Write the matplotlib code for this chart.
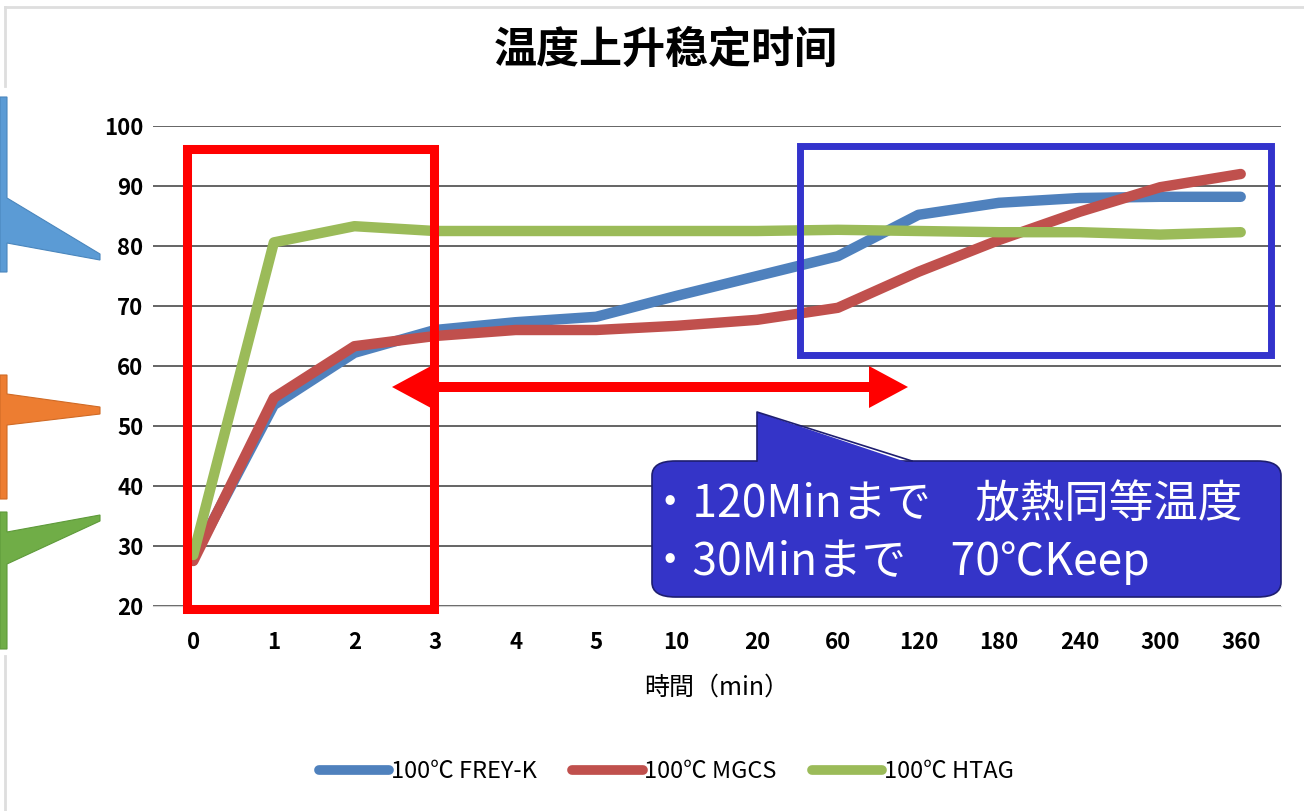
import matplotlib
matplotlib.use("Agg")
import matplotlib.pyplot as plt
from matplotlib.patches import Polygon, Rectangle, FancyBboxPatch
from matplotlib.lines import Line2D

plt.rcParams['font.family'] = ['Noto Sans CJK JP', 'DejaVu Sans']

# ---- data -------------------------------------------------------------
time_labels = ["0", "1", "2", "3", "4", "5", "10", "20", "60",
               "120", "180", "240", "300", "360"]
frey_k = [28.0, 53.5, 62.2, 66.0, 67.3, 68.2, 71.7, 75.0, 78.3,
          85.2, 87.2, 88.0, 88.2, 88.2]
mgcs = [27.5, 54.7, 63.3, 65.0, 66.0, 66.0, 66.7, 67.7, 69.7,
        75.7, 81.0, 85.7, 89.8, 92.0]
htag = [28.5, 80.6, 83.3, 82.5, 82.5, 82.5, 82.5, 82.5, 82.7,
        82.5, 82.3, 82.3, 81.9, 82.3]
series_names = ["100℃ FREY-K", "100℃ MGCS", "100℃ HTAG"]
series_colors = ["#4f81bd", "#c0504d", "#9bbb59"]
y_ticks = [20, 30, 40, 50, 60, 70, 80, 90, 100]

title = "温度上升稳定时间"
x_title = "時間（min）"
note_lines = ["・120Minまで　放熱同等温度", "・30Minまで　70℃Keep"]

# ---- figure -----------------------------------------------------------
W, H = 1304, 811
fig = plt.figure(figsize=(W / 100, H / 100), dpi=100)


def fx(px):
    return px / W


def fy(py):
    return 1 - py / H


def pts(seq):
    return [(fx(x), fy(y)) for x, y in seq]


# light outer frame
fig.add_artist(Line2D([fx(5), fx(W)], [fy(7), fy(7)], color="#dedede", lw=2))
fig.add_artist(Line2D([fx(5), fx(5)], [fy(7), fy(86)], color="#dedede", lw=2))
fig.add_artist(Line2D([fx(5), fx(5)], [fy(656), fy(H)], color="#dedede", lw=2))

ax = fig.add_axes([fx(153), fy(606), fx(1281) - fx(153), fy(126) - fy(606)])
x = list(range(len(time_labels)))
for vals, name, col in zip([frey_k, mgcs, htag], series_names, series_colors):
    ax.plot(x, vals, color=col, lw=7.5, solid_capstyle="round",
            solid_joinstyle="round", label=name, zorder=3)

ax.set_xlim(-0.5, len(time_labels) - 0.5)
ax.set_ylim(20, 100)
ax.set_yticks(y_ticks)
ax.set_xticks(x)
ax.set_xticklabels(time_labels)
ax.grid(axis="y", color="#3a3a3a", lw=1.1, zorder=0)
for s in ["left", "right", "top"]:
    ax.spines[s].set_visible(False)
ax.spines["bottom"].set_color("#d0d0d0")
ax.tick_params(axis="both", length=0)
ax.tick_params(axis="x", pad=18, labelsize=16)
ax.tick_params(axis="y", pad=7, labelsize=16)
for lab in ax.get_yticklabels():
    lab.set_fontweight("bold")
for lab in ax.get_xticklabels():
    lab.set_fontweight("bold")
ax.set_xlabel(x_title, fontsize=18, labelpad=15)

fig.text(fx(666), fy(50), title, fontsize=31, fontweight="bold",
         ha="center", va="center",
         family=["Noto Sans CJK SC", "DejaVu Sans"])

leg = fig.legend(loc="center", bbox_to_anchor=(fx(666), fy(772)), ncol=3,
                 frameon=False, fontsize=17, handlelength=3.0,
                 handletextpad=0.05, columnspacing=1.5)
for h in leg.get_lines():
    h.set_linewidth(7)
    h.set_solid_capstyle("round")

# ---- overlay shapes ---------------------------------------------------
# left-edge markers
fig.add_artist(Polygon(pts([(0, 97), (7, 97), (7, 198), (100, 254), (100, 260),
                            (7, 243), (7, 272), (0, 272)]),
                       closed=True, facecolor="#5b9bd5", edgecolor="#4a86bd",
                       lw=0.8))
fig.add_artist(Polygon(pts([(0, 375), (7, 375), (7, 394), (100, 407), (100, 414),
                            (7, 425), (7, 499), (0, 499)]),
                       closed=True, facecolor="#ed7d31", edgecolor="#d06a25",
                       lw=0.8))
fig.add_artist(Polygon(pts([(0, 512), (7, 512), (7, 532), (100, 515), (100, 521),
                            (7, 564), (7, 649), (0, 649)]),
                       closed=True, facecolor="#70ad47", edgecolor="#5e9a3a",
                       lw=0.8))

# highlight frames
fig.add_artist(Rectangle((fx(187), fy(609)), fx(434) - fx(187), fy(149) - fy(609),
                         fill=False, edgecolor="#ff0000", lw=6.5, zorder=5))
fig.add_artist(Rectangle((fx(800), fy(355)), fx(1271) - fx(800), fy(146) - fy(355),
                         fill=False, edgecolor="#3333cc", lw=5, zorder=5))

# double-headed arrow
fig.add_artist(Polygon(pts([(392, 387), (431, 366), (431, 382), (869, 382),
                            (869, 366), (908, 387), (869, 408), (869, 392),
                            (431, 392), (431, 408)]),
                       closed=True, facecolor="#ff0000", edgecolor="none",
                       zorder=5))

# callout
fig.add_artist(FancyBboxPatch((fx(652), fy(597)), fx(1281) - fx(652),
                              fy(461) - fy(597),
                              boxstyle="round,pad=0,rounding_size=0.018",
                              facecolor="#3434c8", edgecolor="#1e1e70",
                              lw=1.2, zorder=6))
fig.add_artist(Polygon(pts([(757, 464), (757, 412), (912, 464)]),
                       closed=True, facecolor="#3434c8", edgecolor="none",
                       zorder=7))
fig.add_artist(Line2D([fx(757), fx(757), fx(912)], [fy(461), fy(412), fy(461)],
                      color="#1e1e70", lw=1.2, zorder=8))
fig.text(fx(648), fy(505), note_lines[0], color="white", fontsize=32,
         ha="left", va="center", zorder=9)
fig.text(fx(648), fy(562), note_lines[1], color="white", fontsize=32,
         ha="left", va="center", zorder=9)

fig.savefig("out.png", dpi=100, facecolor="white")
